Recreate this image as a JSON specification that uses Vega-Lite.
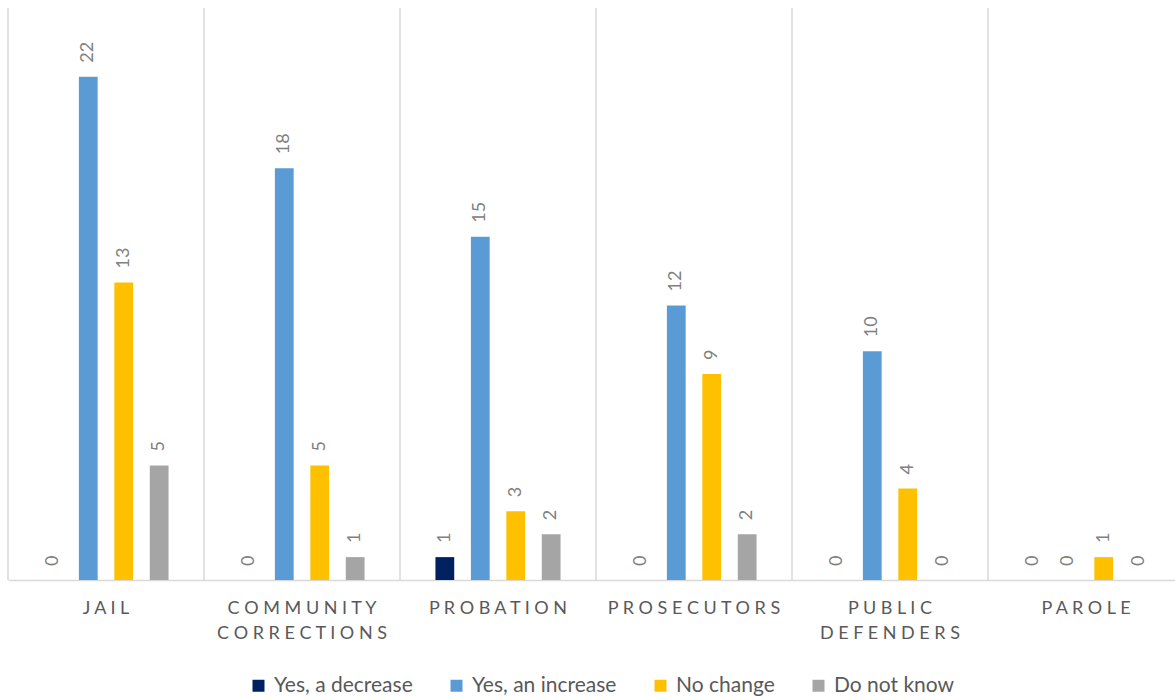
{
  "$schema": "https://vega.github.io/schema/vega-lite/v6.json",
  "width": 1176,
  "height": 572,
  "autosize": {"type": "none"},
  "padding": {"left": 8, "top": 8, "right": -9, "bottom": 120},
  "background": "white",
  "config": {"view": {"stroke": "transparent", "strokeWidth": 0}, "font": "Lato"},
  "data": {
    "values": [
      {"category": "Jail", "response": "Yes, a decrease", "count": 0},
      {"category": "Jail", "response": "Yes, an increase", "count": 22},
      {"category": "Jail", "response": "No change", "count": 13},
      {"category": "Jail", "response": "Do not know", "count": 5},
      {"category": "Community Corrections", "response": "Yes, a decrease", "count": 0},
      {"category": "Community Corrections", "response": "Yes, an increase", "count": 18},
      {"category": "Community Corrections", "response": "No change", "count": 5},
      {"category": "Community Corrections", "response": "Do not know", "count": 1},
      {"category": "Probation", "response": "Yes, a decrease", "count": 1},
      {"category": "Probation", "response": "Yes, an increase", "count": 15},
      {"category": "Probation", "response": "No change", "count": 3},
      {"category": "Probation", "response": "Do not know", "count": 2},
      {"category": "Prosecutors", "response": "Yes, a decrease", "count": 0},
      {"category": "Prosecutors", "response": "Yes, an increase", "count": 12},
      {"category": "Prosecutors", "response": "No change", "count": 9},
      {"category": "Prosecutors", "response": "Do not know", "count": 2},
      {"category": "Public Defenders", "response": "Yes, a decrease", "count": 0},
      {"category": "Public Defenders", "response": "Yes, an increase", "count": 10},
      {"category": "Public Defenders", "response": "No change", "count": 4},
      {"category": "Public Defenders", "response": "Do not know", "count": 0},
      {"category": "Parole", "response": "Yes, a decrease", "count": 0},
      {"category": "Parole", "response": "Yes, an increase", "count": 0},
      {"category": "Parole", "response": "No change", "count": 1},
      {"category": "Parole", "response": "Do not know", "count": 0}
    ]
  },
  "encoding": {
    "x": {
      "field": "category",
      "type": "nominal",
      "sort": ["Jail", "Community Corrections", "Probation", "Prosecutors", "Public Defenders", "Parole"],
      "scale": {"paddingInner": 0, "paddingOuter": 0},
      "axis": {
        "title": null,
        "orient": "bottom",
        "domainColor": "#d9d9d9",
        "domainWidth": 1.5,
        "grid": false,
        "ticks": false,
        "labelAngle": 0,
        "labelFont": "Lato",
        "labelFontSize": 18,
        "labelColor": "#595959",
        "labelPadding": 19,
        "labelBaseline": "top",
        "labelLineHeight": 25,
        "labelExpr": "split(replace(upper(datum.label), regexp('(.)(?=.)', 'g'), '$1 '), '   ')"
      }
    }
  },
  "layer": [
    {
      "transform": [{"aggregate": [], "groupby": ["category"]}],
      "mark": {"type": "rule", "color": "#d9d9d9", "strokeWidth": 1.5},
      "encoding": {
        "x": {
          "field": "category",
          "type": "nominal",
          "bandPosition": 0,
          "sort": ["Jail", "Community Corrections", "Probation", "Prosecutors", "Public Defenders", "Parole"]
        }
      }
    },
    {
      "mark": {"type": "bar"},
      "encoding": {
        "xOffset": {
          "field": "response",
          "type": "nominal",
          "scale": {
            "domain": ["Yes, a decrease", "Yes, an increase", "No change", "Do not know"],
            "paddingInner": 0.47,
            "paddingOuter": 1.18
          }
        },
        "y": {
          "field": "count",
          "type": "quantitative",
          "scale": {"domain": [0, 25]},
          "axis": null
        },
        "color": {
          "field": "response",
          "type": "nominal",
          "scale": {
            "domain": ["Yes, a decrease", "Yes, an increase", "No change", "Do not know"],
            "range": ["#002060", "#5B9BD5", "#FFC000", "#A5A5A5"]
          },
          "legend": {
            "title": null,
            "orient": "none",
            "legendX": 240,
            "legendY": 667,
            "direction": "horizontal",
            "symbolType": "square",
            "symbolSize": 144,
            "symbolStrokeWidth": 0,
            "symbolOpacity": 1,
            "labelFont": "Lato",
            "labelFontSize": 21,
            "labelColor": "#595959",
            "labelOffset": 5,
            "labelLimit": 400,
            "columnPadding": 33
          }
        }
      }
    },
    {
      "mark": {
        "type": "text",
        "angle": 270,
        "align": "left",
        "baseline": "middle",
        "dx": 14,
        "fontSize": 18,
        "font": "Lato",
        "color": "#808080"
      },
      "encoding": {
        "xOffset": {
          "field": "response",
          "type": "nominal",
          "scale": {
            "domain": ["Yes, a decrease", "Yes, an increase", "No change", "Do not know"],
            "paddingInner": 0.47,
            "paddingOuter": 1.18
          }
        },
        "y": {
          "field": "count",
          "type": "quantitative",
          "scale": {"domain": [0, 25]},
          "axis": null
        },
        "text": {"field": "count", "type": "quantitative"}
      }
    }
  ]
}
